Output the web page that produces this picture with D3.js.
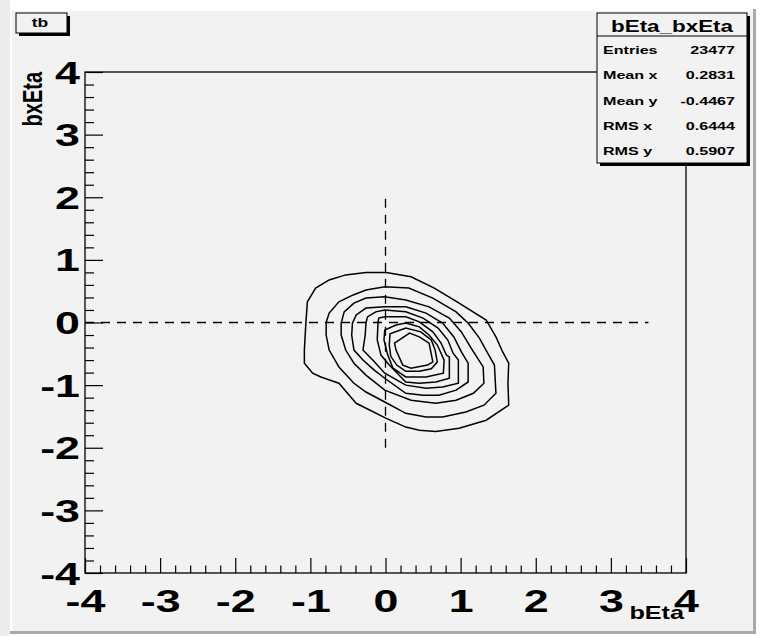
<!DOCTYPE html>
<html><head><meta charset="utf-8">
<script src="https://cdn.jsdelivr.net/npm/d3@7"></script>
<style>html,body{margin:0;padding:0;background:#fff;}svg{display:block;}</style>
</head><body>
<svg id="c" width="760" height="636"></svg>
<script>
// ---------- data ----------
const xTickValues = [-4,-3,-2,-1,0,1,2,3,4];
const xTickLabels = ["-4","-3","-2","-1","0","1","2","3","4"];
const yTickValues = [-4,-3,-2,-1,0,1,2,3,4];
const yTickLabels = ["-4","-3","-2","-1","0","1","2","3","4"];
const xTitle = "bEta";
const yTitle = "bxEta";
const padLabel = "tb";
const statsTitle = "bEta_bxEta";
const statNames = ["Entries","Mean x","Mean y","RMS x","RMS y"];
const statValues = ["23477","0.2831","-0.4467","0.6444","0.5907"];
// dashed reference lines [x1,y1,x2,y2]
const refLines = [[0,-2,0,2],[-4,0,3.5,0]];
// contour levels, outermost first: [bEta, bxEta]
const contour1 = [[-1.06,-0.01],[-1.04,0.33],[-0.93,0.55],[-0.75,0.68],[-0.53,0.76],[-0.26,0.80],[0.01,0.80],[0.34,0.73],[0.65,0.55],[0.98,0.31],[1.34,0.04],[1.47,-0.23],[1.56,-0.47],[1.64,-0.65],[1.63,-0.97],[1.64,-1.32],[1.34,-1.56],[0.98,-1.69],[0.67,-1.74],[0.45,-1.72],[0.27,-1.67],[0.01,-1.53],[-0.39,-1.29],[-0.62,-0.97],[-0.86,-0.87],[-0.97,-0.81],[-1.08,-0.65],[-1.08,-0.44]];
const contour2 = [[-0.79,0.00],[-0.75,0.15],[-0.62,0.33],[-0.43,0.44],[-0.26,0.52],[-0.01,0.57],[0.31,0.55],[0.63,0.39],[0.94,0.17],[1.10,-0.01],[1.25,-0.25],[1.36,-0.49],[1.45,-0.68],[1.47,-1.13],[1.31,-1.32],[1.07,-1.43],[0.76,-1.51],[0.54,-1.51],[0.27,-1.45],[-0.01,-1.27],[-0.26,-1.11],[-0.42,-0.97],[-0.62,-0.71],[-0.75,-0.44],[-0.79,-0.20]];
const contour3 = [[-0.59,-0.01],[-0.55,0.17],[-0.42,0.31],[-0.26,0.39],[-0.01,0.41],[0.27,0.36],[0.58,0.25],[0.85,0.07],[1.01,-0.15],[1.14,-0.41],[1.30,-0.71],[1.31,-0.97],[1.17,-1.13],[0.94,-1.24],[0.67,-1.29],[0.34,-1.24],[-0.01,-1.08],[-0.26,-0.84],[-0.42,-0.65],[-0.53,-0.44],[-0.59,-0.20]];
const contour4 = [[-0.44,-0.01],[-0.39,0.12],[-0.26,0.23],[-0.01,0.25],[0.27,0.25],[0.54,0.15],[0.76,-0.01],[0.91,-0.23],[1.01,-0.47],[1.10,-0.65],[1.10,-0.95],[0.94,-1.08],[0.71,-1.16],[0.50,-1.16],[0.27,-1.13],[-0.01,-0.89],[-0.15,-0.76],[-0.30,-0.60],[-0.42,-0.44],[-0.45,-0.20]];
const contour5 = [[-0.26,-0.01],[-0.24,0.09],[-0.13,0.17],[-0.01,0.20],[0.27,0.17],[0.50,0.07],[0.70,-0.09],[0.83,-0.28],[0.90,-0.49],[0.97,-0.60],[0.97,-0.97],[0.76,-1.03],[0.54,-1.05],[0.27,-1.00],[-0.01,-0.81],[-0.17,-0.60],[-0.30,-0.44],[-0.27,-0.20]];
const contour6 = [[-0.10,-0.01],[-0.09,0.07],[-0.01,0.09],[0.27,0.09],[0.45,0.01],[0.63,-0.15],[0.74,-0.33],[0.81,-0.52],[0.85,-0.55],[0.85,-0.89],[0.67,-0.95],[0.45,-0.97],[0.27,-0.95],[0.05,-0.68],[-0.06,-0.52],[-0.11,-0.28]];
const contour7 = [[-0.02,-0.28],[-0.01,-0.12],[0.14,-0.04],[0.27,-0.01],[0.45,-0.07],[0.58,-0.20],[0.69,-0.36],[0.75,-0.52],[0.78,-0.60],[0.77,-0.81],[0.54,-0.87],[0.27,-0.87],[0.10,-0.73],[0.03,-0.52]];
const contour8 = [[0.05,-0.36],[0.06,-0.18],[0.27,-0.09],[0.47,-0.15],[0.61,-0.28],[0.66,-0.44],[0.69,-0.63],[0.61,-0.74],[0.45,-0.78],[0.27,-0.78],[0.15,-0.68],[0.07,-0.54]];
const contour9 = [[0.12,-0.33],[0.32,-0.17],[0.45,-0.23],[0.58,-0.33],[0.63,-0.63],[0.56,-0.68],[0.34,-0.73],[0.23,-0.68],[0.14,-0.44]];
const contours = [contour1,contour2,contour3,contour4,contour5,contour6,contour7,contour8,contour9];

// ---------- drawing ----------
const W = 760, H = 636;
const SX = 1.4; // horizontal stretch of the source rendering
const FONT = "'Liberation Sans', Arial, Helvetica, sans-serif";
const svg = d3.select("#c");

// page / canvas
svg.append("rect").attr("x",0).attr("y",0).attr("width",W).attr("height",H).attr("fill","#ffffff");
svg.append("rect").attr("x",0).attr("y",0).attr("width",10).attr("height",H).attr("fill","#ececec");
svg.append("rect").attr("x",10).attr("y",9).attr("width",746).attr("height",625).attr("fill","#a9a9a9");
svg.append("rect").attr("x",10).attr("y",9).attr("width",743).attr("height",622).attr("fill","#ffffff");
svg.append("rect").attr("x",12).attr("y",11).attr("width",741).attr("height",620).attr("fill","#f2f2f2");

const x = d3.scaleLinear().domain([-4,4]).range([85,686]);
const y = d3.scaleLinear().domain([-4,4]).range([573,72]);

// minor ticks
const minor = d3.range(-4,4.0001,0.2).filter(v => Math.abs(v - Math.round(v)) > 1e-6);
const gx = svg.append("g").attr("transform",`translate(0,${y(-4)})`);
gx.call(d3.axisBottom(x).tickValues(minor).tickSize(-7.5).tickFormat(""));
const gxM = svg.append("g").attr("transform",`translate(0,${y(-4)})`);
gxM.call(d3.axisBottom(x).tickValues(xTickValues).tickSize(-15).tickFormat((d,i)=>xTickLabels[i]));
const gy = svg.append("g").attr("transform",`translate(${x(-4)},0)`);
gy.call(d3.axisLeft(y).tickValues(minor).tickSize(-9).tickFormat(""));
const gyM = svg.append("g").attr("transform",`translate(${x(-4)},0)`);
gyM.call(d3.axisLeft(y).tickValues(yTickValues).tickSize(-18).tickFormat((d,i)=>yTickLabels[i]));
svg.selectAll(".domain").remove();
svg.selectAll(".tick line").attr("stroke","#000").attr("stroke-width",1.2);

gxM.selectAll(".tick text")
  .attr("y",0).attr("dy",0)
  .attr("transform",`translate(0,39) scale(${SX},1)`)
  .attr("font-family",FONT).attr("font-weight","bold").attr("font-size",32).attr("fill","#000");
gyM.selectAll(".tick text")
  .attr("x",0).attr("dy",0)
  .attr("transform",`translate(-5,11) scale(${SX},1)`)
  .attr("text-anchor","end")
  .attr("font-family",FONT).attr("font-weight","bold").attr("font-size",32).attr("fill","#000");

// frame
svg.append("rect").attr("x",x(-4)).attr("y",y(4)).attr("width",x(4)-x(-4)).attr("height",y(-4)-y(4))
  .attr("fill","none").attr("stroke","#000").attr("stroke-width",1.3);

// axis titles
svg.append("text").text(xTitle)
  .attr("transform",`translate(${x(4)-2},619) scale(${SX},1)`)
  .attr("text-anchor","end").attr("font-family",FONT).attr("font-weight","bold").attr("font-size",18).attr("fill","#000");
svg.append("text").text(yTitle)
  .attr("transform",`translate(42,${y(4)}) scale(${SX},1) rotate(-90)`)
  .attr("text-anchor","end").attr("font-family",FONT).attr("font-weight","bold").attr("font-size",20).attr("fill","#000");

// reference dashed lines
svg.append("g").selectAll("line").data(refLines).join("line")
  .attr("x1",d=>x(d[0])).attr("y1",d=>y(d[1])).attr("x2",d=>x(d[2])).attr("y2",d=>y(d[3]))
  .attr("stroke","#000").attr("stroke-width",1.3).attr("stroke-dasharray","9,7");

// contours
const line = d3.line().x(d=>x(d[0])).y(d=>y(d[1])).curve(d3.curveLinearClosed);
svg.append("g").selectAll("path").data(contours).join("path")
  .attr("d",line).attr("fill","none").attr("stroke","#000").attr("stroke-width",1.5);

// pad label "tb"
const tb = svg.append("g");
tb.append("rect").attr("x",19).attr("y",16).attr("width",51).attr("height",20).attr("fill","#000");
tb.append("rect").attr("x",16).attr("y",13).attr("width",51).attr("height",20).attr("fill","#f2f2f2").attr("stroke","#000").attr("stroke-width",1);
tb.append("text").text(padLabel).attr("transform",`translate(40,27) scale(${SX},1)`)
  .attr("text-anchor","middle").attr("font-family",FONT).attr("font-weight","bold").attr("font-size",12.5).attr("fill","#000");

// stats box
const bx = 597, by = 13, bw = 150, bh = 150;
const st = svg.append("g");
st.append("rect").attr("x",bx+3).attr("y",by+3).attr("width",bw).attr("height",bh).attr("fill","#000");
st.append("rect").attr("x",bx).attr("y",by).attr("width",bw).attr("height",bh).attr("fill","#f2f2f2").attr("stroke","#000").attr("stroke-width",1);
st.append("line").attr("x1",bx).attr("x2",bx+bw).attr("y1",by+23).attr("y2",by+23).attr("stroke","#000").attr("stroke-width",1);
st.append("text").text(statsTitle).attr("transform",`translate(${bx+bw/2},${by+19}) scale(${SX},1)`)
  .attr("text-anchor","middle").attr("font-family",FONT).attr("font-weight","bold").attr("font-size",16).attr("fill","#000");
const rowY = d3.scaleBand().domain(statNames).range([by+23,by+bh]);
st.selectAll("text.n").data(statNames).join("text").attr("class","n").text(d=>d)
  .attr("transform",d=>`translate(${bx+6},${rowY(d)+rowY.bandwidth()/2+5}) scale(${SX},1)`)
  .attr("font-family",FONT).attr("font-weight","bold").attr("font-size",11.5).attr("fill","#000");
st.selectAll("text.v").data(statValues).join("text").attr("class","v").text(d=>d)
  .attr("transform",(d,i)=>`translate(${bx+bw-12},${rowY(statNames[i])+rowY.bandwidth()/2+5}) scale(${SX},1)`)
  .attr("text-anchor","end").attr("font-family",FONT).attr("font-weight","bold").attr("font-size",11.5).attr("fill","#000");
</script>
</body></html>
